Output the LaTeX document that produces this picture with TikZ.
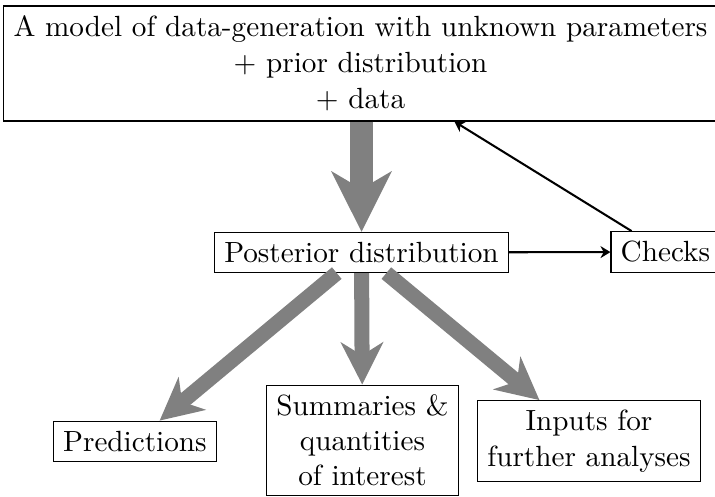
\documentclass[tikz,border=0pt]{standalone}
\usetikzlibrary{arrows.meta}
\begin{document}
\begin{tikzpicture}[x=0.34247pt,y=-0.34247pt,
  box/.style={draw, align=center, inner sep=3.33pt},
  bigarrow/.style={draw=gray, line width=7.64pt, -{Stealth[length=20.5pt,width=20.2pt,inset=5.8pt]}},
  midarrow/.style={draw=gray, line width=5.14pt, -{Stealth[length=14.4pt,width=14.4pt,inset=4.4pt]}},
  thinarrow/.style={draw=black, line width=0.7pt, -{Stealth[length=3.4pt,width=4.1pt,inset=1.1pt]}}]
\useasboundingbox (0,0) rectangle (715,497);
\node[box, minimum width=244.2pt, minimum height=39.4pt] (top) at (360.5,63.5)
  {A model of data-generation with unknown parameters\\[0.3pt] + prior distribution\\[0.3pt] + data};
\node[box] (post) at (361.5,252.5) {Posterior distribution};
\node[box] (checks) at (665.4,252) {Checks};
\node[box] (pred) at (134.9,441.2) {Predictions};
\node[box] (summ) at (362.5,440.5) {Summaries \&\\ quantities\\ of interest};
\node[box] (inputs) at (589,441.2) {Inputs for\\ further analyses};
\draw[bigarrow] (post.north |- top.south) -- (post.north);
\draw[thinarrow] (post) -- (checks);
\draw[thinarrow] (checks) -- (top);
\draw[midarrow] (post) -- (pred);
\draw[midarrow] (post) -- (summ);
\draw[midarrow] (post) -- (inputs);
\end{tikzpicture}
\end{document}
